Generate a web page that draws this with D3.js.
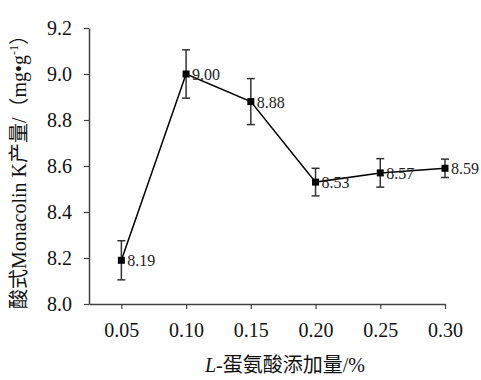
<!DOCTYPE html>
<html><head><meta charset="utf-8">
<script src="https://cdn.jsdelivr.net/npm/d3@7/dist/d3.min.js"></script>
<style>body{margin:0;background:#fff} text{font-family:'Liberation Serif','Times New Roman','Noto Sans CJK SC',serif}</style>
</head><body><svg id="c" width="481" height="380"></svg>
<script>
const categories = [0.05, 0.10, 0.15, 0.20, 0.25, 0.30];
const values = [8.19, 9.00, 8.88, 8.53, 8.57, 8.59];
const errors = [0.085, 0.105, 0.10, 0.06, 0.062, 0.04];
const labels = ["8.19", "9.00", "8.88", "8.53", "8.57", "8.59"];
const yTicks = [8.0, 8.2, 8.4, 8.6, 8.8, 9.0, 9.2];

const svg = d3.select("#c");
const serif = "'Liberation Serif','Times New Roman','Noto Sans CJK SC',serif";
const x = d3.scaleLinear().domain([0.025, 0.30]).range([89, 445]);
const y = d3.scaleLinear().domain([8.0, 9.2]).range([304, 28]);

const xa = svg.append("g").attr("transform", "translate(0,304)")
  .call(d3.axisBottom(x).tickValues(categories).tickFormat(d3.format(".2f")).tickSize(5).tickSizeOuter(0));
const ya = svg.append("g").attr("transform", "translate(89,0)")
  .call(d3.axisLeft(y).tickValues(yTicks).tickFormat(d3.format(".1f")).tickSize(5).tickSizeOuter(0));
[xa, ya].forEach(a => {
  a.attr("font-family", null).attr("font-size", null);
  a.select(".domain").attr("stroke", "#404040").attr("stroke-width", 1.5);
  a.selectAll(".tick line").attr("stroke", "#404040").attr("stroke-width", 1.2);
  a.selectAll("text").style("font-family", serif).style("font-size", "20px").attr("fill", "#111");
});
xa.selectAll("text").attr("dy", null).attr("y", 33);
ya.selectAll("text").attr("x", -17).attr("dy", "0.33em");

// line
svg.append("path").datum(categories.map((c, i) => [c, values[i]]))
  .attr("fill", "none").attr("stroke", "#000").attr("stroke-width", 1.5)
  .attr("d", d3.line().x(d => x(d[0])).y(d => y(d[1])));

// error bars
const eb = svg.append("g").attr("stroke", "#333").attr("stroke-width", 1.5);
categories.forEach((c, i) => {
  const cx = x(c), t = y(values[i] + errors[i]), b = y(values[i] - errors[i]);
  eb.append("line").attr("x1", cx).attr("x2", cx).attr("y1", t).attr("y2", b);
  eb.append("line").attr("x1", cx - 4).attr("x2", cx + 4).attr("y1", t).attr("y2", t);
  eb.append("line").attr("x1", cx - 4).attr("x2", cx + 4).attr("y1", b).attr("y2", b);
});

// markers
svg.append("g").selectAll("rect").data(categories).join("rect")
  .attr("x", (d) => x(d) - 3.5).attr("y", (d, i) => y(values[i]) - 3.5)
  .attr("width", 7).attr("height", 7).attr("fill", "#000");

// labels
svg.append("g").selectAll("text").data(categories).join("text")
  .attr("x", d => x(d) + 6).attr("y", (d, i) => y(values[i]) + 6)
  .style("font-size", "16px").attr("fill", "#222")
  .text((d, i) => labels[i]);

// x title
const xt = svg.append("text").attr("x", 285).attr("y", 372).attr("text-anchor", "middle")
  .style("font-size", "20px").attr("fill", "#111");
xt.append("tspan").attr("font-style", "italic").text("L");
xt.append("tspan").text("-蛋氨酸添加量/%");

// y title
const yt = svg.append("text").attr("transform", "translate(26,167) rotate(-90)").attr("text-anchor", "middle")
  .style("font-size", "20px").attr("fill", "#111");
yt.append("tspan").text("酸式Monacolin K产量/（mg•g");
yt.append("tspan").style("font-size", "12px").attr("dy", -8).text("-1");
yt.append("tspan").attr("dy", 8).text("）");
</script></body></html>
